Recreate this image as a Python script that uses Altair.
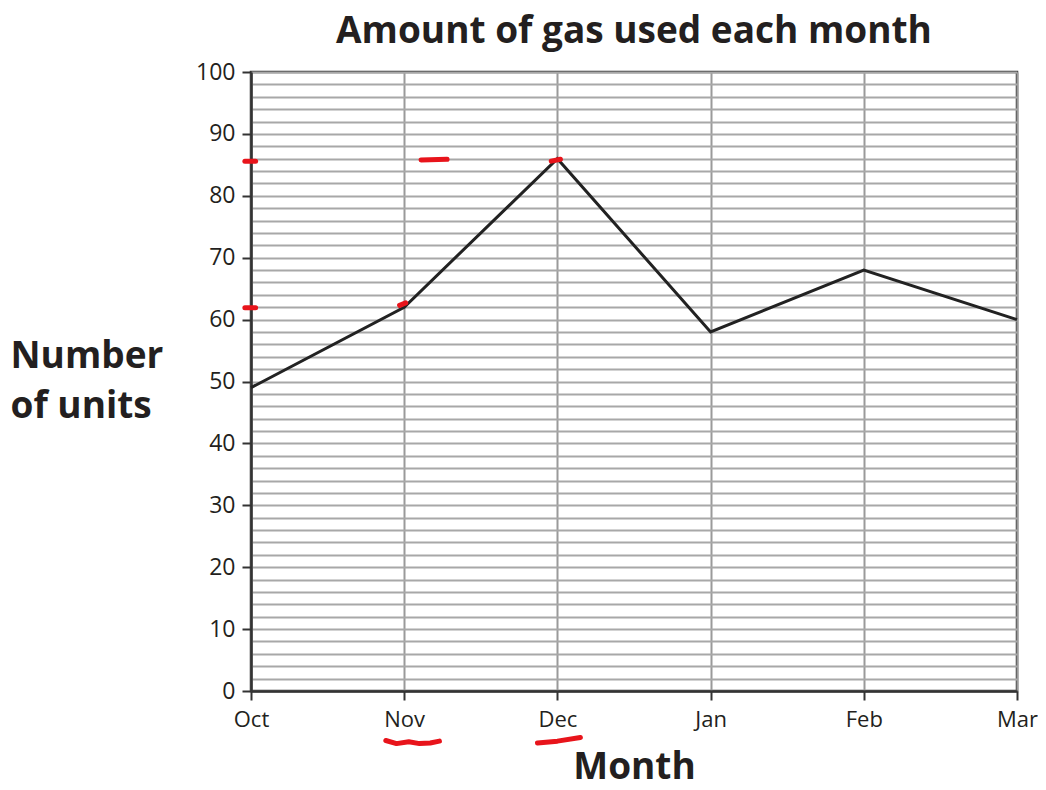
import altair as alt
import pandas as pd

months = ["Oct", "Nov", "Dec", "Jan", "Feb", "Mar"]
units = [49, 62, 86, 58, 68, 60]

# red hand-drawn annotation strokes (month index, units)
mark_id = [0, 0, 1, 1, 2, 2, 3, 3, 4, 4, 5, 5, 5, 5, 5, 5, 6, 6, 6]
mark_x = [-0.04, 0.03, 1.11, 1.28, 1.96, 2.02, -0.04, 0.03, 0.97, 1.01,
          0.88, 0.95, 1.03, 1.10, 1.17, 1.23, 1.87, 2.0, 2.15]
mark_y = [85.6, 85.6, 85.8, 85.9, 85.6, 85.9, 61.9, 61.9, 62.3, 62.7,
          -8.0, -8.5, -8.2, -8.5, -8.4, -8.1, -8.4, -8.1, -7.5]

df = pd.DataFrame({"idx": list(range(len(months))), "month": months, "units": units})
red = pd.DataFrame({"g": mark_id, "idx": mark_x, "units": mark_y, "o": list(range(len(mark_id)))})

label_expr = "['Oct','Nov','Dec','Jan','Feb','Mar'][datum.value]"
ink = "#231f20"

x_enc = alt.X(
    "idx:Q",
    scale=alt.Scale(domain=[0, 5], nice=False, zero=False),
    axis=alt.Axis(
        title="Month", values=[0, 1, 2, 3, 4, 5], labelExpr=label_expr,
        labelFlush=False, labelOverlap=False,
        grid=True, gridColor="#9a9a9a", gridWidth=2,
        domainColor="#333", domainWidth=2.5, tickColor="#333", tickWidth=2, tickSize=9,
        labelFont="Open Sans", labelFontSize=22, labelColor=ink, labelPadding=9,
        titleFont="Open Sans", titleFontSize=37, titleFontWeight="bold", titleColor=ink,
        titlePadding=19,
    ),
)
y_enc = alt.Y(
    "units:Q",
    scale=alt.Scale(domain=[0, 100], nice=False),
    axis=alt.Axis(
        title=["Number", "of units"], values=list(range(0, 101, 2)),
        labelExpr="datum.value % 10 === 0 ? datum.label : ''",
        labelOverlap=False, labelFlush=False,
        grid=True, gridColor="#a8a8a8", gridWidth=2,
        domainColor="#333", domainWidth=2.5,
        tickColor={"condition": {"test": "datum.value % 10 === 0", "value": "#333"}, "value": "transparent"},
        tickWidth=2, tickSize=9,
        labelFont="Open Sans", labelFontSize=23, labelColor=ink, labelPadding=7,
        titleFont="Open Sans", titleFontSize=37, titleFontWeight="bold", titleColor=ink,
        titleAngle=0, titleAlign="left", titleBaseline="top", titleX=-241, titleY=266,
        titleLineHeight=50,
    ),
)

line = alt.Chart(df).mark_line(color="#222", strokeWidth=3).encode(x=x_enc, y=y_enc)

red_marks = alt.Chart(red).mark_line(
    color="#e8141b", strokeWidth=5, strokeCap="round", strokeJoin="round", clip=False
).encode(x=x_enc, y=y_enc, detail="g:N", order="o:Q")

chart = alt.layer(line, red_marks).properties(
    width=766, height=619, background="white",
    autosize=alt.AutoSizeParams(type="none"),
    padding={"left": 243, "top": 64, "right": 21, "bottom": 91},
    title=alt.TitleParams(
        "Amount of gas used each month", font="Open Sans", fontSize=37,
        fontWeight="bold", color=ink, anchor="middle", offset=10,
    ),
).configure_view(stroke="#333", strokeWidth=2.5)

chart.save("out.html", embed_options={"renderer": "svg", "actions": False})
